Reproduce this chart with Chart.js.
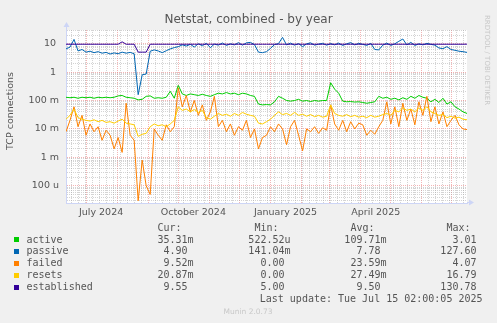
<!DOCTYPE html>
<html>
<head>
<meta charset="utf-8">
<title>Netstat, combined - by year</title>
<script src="https://cdn.jsdelivr.net/npm/chart.js@4.4.1/dist/chart.umd.min.js"></script>
<style>
  html, body { margin: 0; padding: 0; background: #f0f0f0; }
  #wrap { width: 497px; height: 323px; }
</style>
</head>
<body>
<div id="wrap"><canvas id="netstatChart" width="497" height="323"></canvas></div>
<script>
// -------------------- Data --------------------
// one sample every 4 days, day 0 = 11 June 2024
const sampleStep = 4;

const activeVals = [
  0.13, 0.125, 0.13, 0.12, 0.13, 0.125, 0.13, 0.12, 0.13, 0.125, 0.13, 0.125, 0.13, 0.145, 0.15, 0.13, 0.125, 0.12, 0.105, 0.11, 0.14, 0.145, 0.12, 0.125, 0.12,
  0.13, 0.21, 0.12, 0.34, 0.17, 0.15, 0.17, 0.16, 0.15, 0.165, 0.15, 0.14, 0.16, 0.18, 0.17, 0.19, 0.17, 0.18, 0.16, 0.18, 0.17, 0.15, 0.14, 0.075, 0.07,
  0.072, 0.07, 0.09, 0.14, 0.12, 0.1, 0.095, 0.1, 0.11, 0.095, 0.1, 0.092, 0.1, 0.095, 0.1, 0.1, 0.42, 0.25, 0.18, 0.095, 0.09, 0.092, 0.088, 0.09, 0.085,
  0.08, 0.085, 0.09, 0.14, 0.12, 0.13, 0.11, 0.12, 0.105, 0.125, 0.11, 0.14, 0.12, 0.15, 0.13, 0.12, 0.09, 0.11, 0.085, 0.12, 0.075, 0.09, 0.06, 0.05, 0.04, 0.035
];
const passiveVals = [
  6.5, 7.5, 14, 5.5, 6.2, 5.0, 5.4, 4.8, 5.2, 4.6, 4.9, 4.3, 4.7, 4.4, 5.0, 4.6, 4.9, 4.4, 0.16, 0.8, 0.85, 5.4, 6.0, 5.5, 4.8,
  5.6, 6.5, 7.2, 7.8, 9.0, 8.2, 9.4, 7.6, 9.8, 8.4, 10.2, 7.2, 9.6, 8.8, 10.5, 8.6, 9.8, 9.0, 10.8, 8.8, 10.6, 11.0, 9.2, 5.0, 4.8,
  5.2, 6.8, 9.2, 10.0, 16.5, 9.0, 10.4, 8.8, 10.0, 7.8, 9.8, 10.6, 8.8, 9.6, 10.2, 8.8, 10.0, 9.0, 10.4, 8.6, 9.8, 10.8, 9.0, 10.2, 9.4,
  8.6, 10.2, 6.2, 6.0, 8.8, 10.4, 8.6, 9.8, 12.0, 14.5, 9.0, 11.0, 8.6, 9.8, 9.0, 10.2, 9.4, 8.8, 7.0, 6.6, 7.8, 6.2, 5.8, 5.4, 5.2, 4.9
];
const failedVals = [
  0.008, 0.02, 0.06, 0.012, 0.03, 0.006, 0.015, 0.008, 0.012, 0.004, 0.009, 0.006, 0.002, 0.005, 0.0015, 0.08, 0.006, 0.004, 0.00003, 0.0008, 0.0001, 0.00005, 0.01, 0.006, 0.004,
  0.014, 0.008, 0.012, 0.28, 0.06, 0.15, 0.04, 0.1, 0.03, 0.07, 0.02, 0.04, 0.14, 0.012, 0.02, 0.008, 0.015, 0.006, 0.012, 0.009, 0.02, 0.005, 0.01, 0.002, 0.005,
  0.006, 0.012, 0.008, 0.015, 0.01, 0.0028, 0.012, 0.02, 0.006, 0.0017, 0.01, 0.008, 0.012, 0.007, 0.011, 0.009, 0.07, 0.015, 0.009, 0.02, 0.008, 0.018, 0.01, 0.016, 0.014,
  0.006, 0.009, 0.0065, 0.012, 0.02, 0.09, 0.015, 0.06, 0.012, 0.08, 0.02, 0.05, 0.014, 0.09, 0.03, 0.14, 0.018, 0.06, 0.015, 0.04, 0.012, 0.02, 0.03, 0.014, 0.01, 0.0095
];
const resetsVals = [
  0.022, 0.03, 0.05, 0.025, 0.022, 0.02, 0.019, 0.021, 0.018, 0.02, 0.017, 0.018, 0.016, 0.019, 0.022, 0.016, 0.015, 0.014, 0.0055, 0.0065, 0.007, 0.012, 0.015, 0.013, 0.014,
  0.012, 0.015, 0.02, 0.06, 0.045, 0.05, 0.04, 0.048, 0.038, 0.045, 0.025, 0.022, 0.028, 0.035, 0.03, 0.033, 0.028, 0.035, 0.03, 0.038, 0.033, 0.03, 0.028, 0.016, 0.015,
  0.018, 0.022, 0.03, 0.04, 0.032, 0.035, 0.03, 0.038, 0.03, 0.033, 0.028, 0.032, 0.027, 0.03, 0.026, 0.028, 0.07, 0.035, 0.03, 0.028, 0.032, 0.027, 0.03, 0.026, 0.028,
  0.025, 0.03, 0.026, 0.028, 0.032, 0.035, 0.03, 0.045, 0.04, 0.055, 0.045, 0.05, 0.04, 0.055, 0.045, 0.06, 0.04, 0.035, 0.03, 0.032, 0.025, 0.028, 0.024, 0.026, 0.022, 0.021
];
const establishedVals = [
  9.5, 9.5, 9.5, 9.5, 9.5, 9.5, 9.5, 9.5, 9.5, 9.5, 9.5, 9.5, 9.5, 9.5, 11.5, 9.5, 9.5, 9.5, 5.0, 5.0, 5.0, 9.5, 9.5, 9.5, 9.5,
  9.5, 9.5, 9.5, 9.5, 9.5, 9.5, 9.5, 9.5, 9.5, 9.5, 9.5, 9.5, 9.5, 9.5, 9.5, 9.5, 9.5, 9.5, 9.5, 9.5, 9.5, 9.5, 9.5, 9.5, 9.5,
  9.5, 9.5, 9.5, 9.5, 9.5, 9.5, 9.5, 9.5, 9.5, 9.5, 9.5, 9.5, 9.5, 9.5, 9.5, 9.5, 9.5, 9.5, 9.5, 9.5, 9.5, 9.5, 9.5, 9.5, 9.5,
  9.5, 9.5, 9.5, 9.5, 9.5, 9.5, 9.5, 9.5, 9.5, 9.5, 9.5, 9.5, 9.5, 9.5, 9.5, 9.5, 9.5, 9.5, 9.5, 9.5, 9.5, 9.5, 9.5, 9.5, 9.5, 9.55
];

const seriesNames = ['active', 'passive', 'failed', 'resets', 'established'];
const seriesColors = ['#00cc00', '#0066b3', '#ff8000', '#ffcc00', '#330099'];
const seriesVals = [activeVals, passiveVals, failedVals, resetsVals, establishedVals];

// legend table
const colHeads = ['Cur:', 'Min:', 'Avg:', 'Max:'];
const curText = ['35.31m', '4.90 ', '9.52m', '20.87m', '9.55 '];
const minText = ['522.52u', '141.04m', '0.00 ', '0.00 ', '5.00 '];
const avgText = ['109.71m', '7.78 ', '23.59m', '27.49m', '9.50 '];
const maxText = ['3.01 ', '127.60 ', '4.07 ', '16.79 ', '130.78 '];

// time axis (days since 11 June 2024)
const monthStartDays = [20, 51, 82, 112, 143, 173, 204, 235, 263, 294, 324, 355, 385];
const firstWeekDay = 5;
const labelDays = [35, 127, 219, 309];
const labelTexts = ['July 2024', 'October 2024', 'January 2025', 'April 2025'];

// log axis decades and their labels
const decadeExps = [1, 0, -1, -2, -3, -4];
const decadeLabels = ['10 ', '1 ', '100 m', '10 m', '1 m', '100 u'];

const textColor = '#555';
const sansFont = '"DejaVu Sans", sans-serif';
const monoFont = '"DejaVu Sans Mono", monospace';
const minorGrid = 'rgba(160,160,160,0.45)';
const majorGrid = 'rgba(235,120,120,0.55)';
const axisColor = '#cdd5f6';

// -------------------- Ticks --------------------
const weekDays = [];
for (let d = firstWeekDay; d < 400; d += 7) weekDays.push(d);
const xTickDays = [...new Set([...weekDays, ...monthStartDays, ...labelDays])].sort((a, b) => a - b);

const yMin = 2.5e-5;
const yMax = 30;
const yTickVals = [];
for (let e = -5; e <= 1; e++) {
  for (let s = 1; s <= 9; s++) {
    const v = s * Math.pow(10, e);
    if (v >= yMin && v <= yMax) yTickVals.push(v);
  }
}
const decadeOf = v => {
  const e = Math.log10(v);
  return Math.abs(e - Math.round(e)) < 1e-9 ? Math.round(e) : null;
};

// -------------------- Decorations --------------------
const munin = {
  id: 'munin',
  beforeDraw(chart) {
    const { ctx, chartArea: a } = chart;
    ctx.save();
    ctx.fillStyle = '#f0f0f0';
    ctx.fillRect(0, 0, chart.width, chart.height);
    ctx.fillStyle = '#ffffff';
    ctx.fillRect(a.left, a.top, a.right - a.left, a.bottom - a.top);
    ctx.restore();
  },
  afterDraw(chart) {
    const { ctx, chartArea: a } = chart;
    ctx.save();

    // axis arrows
    ctx.fillStyle = axisColor;
    ctx.strokeStyle = axisColor;
    ctx.lineWidth = 1;
    ctx.beginPath();
    ctx.moveTo(a.left + 0.5, a.top);
    ctx.lineTo(a.left + 0.5, a.top - 4);
    ctx.moveTo(a.right, a.bottom - 0.5);
    ctx.lineTo(a.right + 3, a.bottom - 0.5);
    ctx.stroke();
    ctx.beginPath();
    ctx.moveTo(a.left + 0.5, a.top - 8);
    ctx.lineTo(a.left + 3.5, a.top - 3);
    ctx.lineTo(a.left - 2.5, a.top - 3);
    ctx.closePath();
    ctx.fill();
    ctx.beginPath();
    ctx.moveTo(a.right + 7, a.bottom - 0.5);
    ctx.lineTo(a.right + 2, a.bottom - 3.5);
    ctx.lineTo(a.right + 2, a.bottom + 2.5);
    ctx.closePath();
    ctx.fill();

    // title
    ctx.fillStyle = textColor;
    ctx.font = '12px ' + sansFont;
    ctx.textAlign = 'center';
    ctx.textBaseline = 'middle';
    ctx.fillText('Netstat, combined - by year', 248.5, 19.5);

    // vertical axis title
    ctx.save();
    ctx.translate(11, 111);
    ctx.rotate(-Math.PI / 2);
    ctx.font = '9.5px ' + sansFont;
    ctx.fillText('TCP connections', 0, 0);
    ctx.restore();

    // tool credit on the right edge
    ctx.save();
    ctx.translate(487, 15);
    ctx.rotate(Math.PI / 2);
    ctx.fillStyle = '#c8c8c8';
    ctx.font = '7px ' + sansFont;
    ctx.textAlign = 'left';
    ctx.fillText('RRDTOOL / TOBI OETIKER', 0, 0);
    ctx.restore();

    // legend table
    ctx.font = '10px ' + monoFont;
    const charW = ctx.measureText('0').width;
    const colRight = [193.5, 290.5, 386.5, 482.5];
    ctx.fillStyle = textColor;
    ctx.textAlign = 'left';
    colHeads.forEach((h, c) => ctx.fillText(h, colRight[c] - 6 * charW, 228));

    const cols = [curText, minText, avgText, maxText];
    seriesNames.forEach((name, i) => {
      const y = 240 + i * 11.9;
      ctx.fillStyle = seriesColors[i];
      ctx.fillRect(14, Math.round(y) - 3, 5, 5);
      ctx.fillStyle = textColor;
      ctx.textAlign = 'left';
      ctx.fillText(name, 26.5, y);
      ctx.textAlign = 'right';
      cols.forEach((col, c) => ctx.fillText(col[i], colRight[c], y));
    });
    ctx.textAlign = 'right';
    ctx.fillText('Last update: Tue Jul 15 02:00:05 2025', 482.5, 299.5);

    ctx.fillStyle = '#c8c8c8';
    ctx.font = '7.5px ' + sansFont;
    ctx.textAlign = 'center';
    ctx.fillText('Munin 2.0.73', 248, 312.5);
    ctx.restore();
  }
};

// -------------------- Chart --------------------
const datasets = seriesNames.map((name, i) => ({
  label: name,
  data: seriesVals[i].map((v, k) => ({ x: k * sampleStep, y: v })),
  borderColor: seriesColors[i],
  backgroundColor: seriesColors[i],
  borderWidth: 1,
  pointRadius: 0,
  tension: 0,
  fill: false,
  order: seriesNames.length - i
}));

new Chart(document.getElementById('netstatChart'), {
  type: 'line',
  data: { datasets },
  plugins: [munin],
  options: {
    responsive: false,
    animation: false,
    events: [],
    layout: { padding: { left: 0, right: 30, top: 30, bottom: 100 } },
    plugins: {
      legend: { display: false },
      tooltip: { enabled: false }
    },
    scales: {
      x: {
        type: 'linear',
        min: 0,
        max: 400,
        afterBuildTicks: axis => { axis.ticks = xTickDays.map(v => ({ value: v })); },
        afterFit: axis => { axis.height = 20; },
        ticks: {
          autoSkip: false,
          maxRotation: 0,
          padding: 4,
          color: textColor,
          font: { family: sansFont, size: 9.5 },
          callback: v => {
            const k = labelDays.indexOf(v);
            return k >= 0 ? labelTexts[k] : '';
          }
        },
        grid: {
          drawTicks: false,
          lineWidth: 1,
          color: ctx => {
            const v = ctx.tick && ctx.tick.value;
            if (labelDays.includes(v)) return 'rgba(0,0,0,0)';
            return monthStartDays.includes(v) ? majorGrid : minorGrid;
          }
        },
        border: { color: axisColor, dash: [1, 1] }
      },
      y: {
        type: 'logarithmic',
        min: yMin,
        max: yMax,
        afterBuildTicks: axis => { axis.ticks = yTickVals.map(v => ({ value: v })); },
        afterFit: axis => { axis.width = 66; },
        ticks: {
          autoSkip: false,
          padding: 7,
          color: textColor,
          font: { family: sansFont, size: 9.5 },
          callback: v => {
            const e = decadeOf(v);
            const k = decadeExps.indexOf(e);
            return k >= 0 ? decadeLabels[k] : '';
          }
        },
        grid: {
          drawTicks: false,
          lineWidth: 1,
          color: ctx => {
            const v = ctx.tick && ctx.tick.value;
            return v && decadeOf(v) !== null ? majorGrid : minorGrid;
          }
        },
        border: { color: axisColor, dash: [1, 1] }
      }
    }
  }
});
</script>
</body>
</html>
